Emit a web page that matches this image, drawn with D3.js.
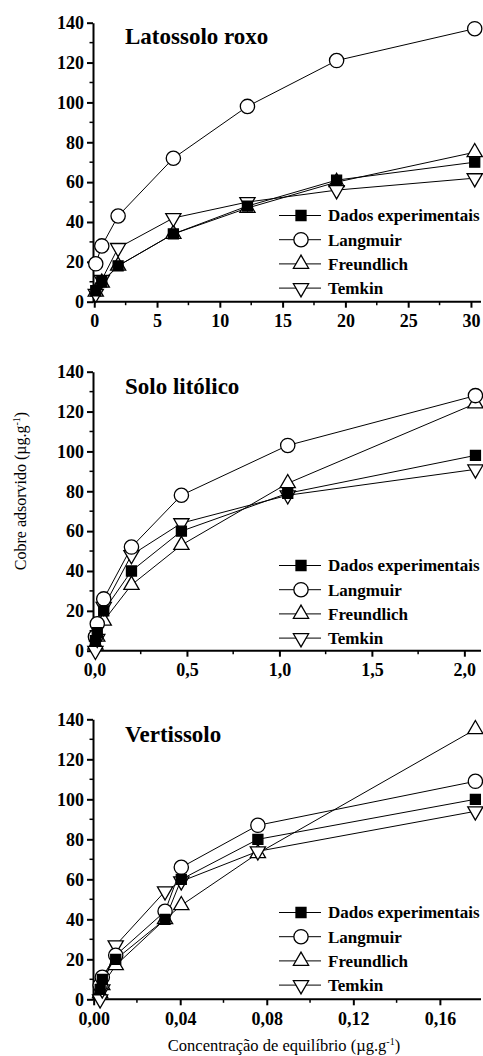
<!DOCTYPE html>
<html><head><meta charset="utf-8">
<script src="https://cdn.jsdelivr.net/npm/d3@7"></script>
<style>
html,body{margin:0;padding:0;background:#fff;}
svg{display:block;}
text{font-family:"Liberation Serif","Times New Roman",Times,serif;fill:#000;}
</style></head>
<body>
<svg id="chart" width="483" height="1056"></svg>
<script>
// ---------- data ----------
const seriesNames = ["Dados experimentais","Langmuir","Freundlich","Temkin"];
const panelTitles = ["Latossolo roxo","Solo litólico","Vertissolo"];

// Latossolo roxo
const x1 = [0.12, 0.6, 1.9, 6.3, 12.2, 19.3, 30.3];
const exp1 = [5.5, 10, 18, 34, 48, 61, 70];
const lang1 = [19, 28, 43, 72, 98, 121, 137];
const freu1 = [5, 9.5, 18, 34, 47, 60, 75];
const temk1 = [4, 11, 27, 42, 50, 56, 62];
const xTicks1 = [0, 5, 10, 15, 20, 25, 30];
const xTickLabels1 = ["0","5","10","15","20","25","30"];

// Solo litólico
const x2 = [0.005, 0.015, 0.05, 0.2, 0.47, 1.045, 2.06];
const exp2 = [5, 9, 20, 40, 60, 79, 98];
const lang2 = [7, 13.5, 26, 52, 78, 103, 128];
const freu2 = [3, 7, 15, 33, 53, 84, 124];
const temk2 = [0, 6, 22, 48, 64, 78, 91];
const xTicks2 = [0, 0.5, 1.0, 1.5, 2.0];
const xTickLabels2 = ["0,0","0,5","1,0","1,5","2,0"];

// Vertissolo
const x3 = [0.003, 0.004, 0.0102, 0.033, 0.0405, 0.0759, 0.1764];
const exp3 = [5, 10, 20, 40, 60, 80, 100];
const lang3 = [7, 11, 22, 44, 66, 87, 109];
const freu3 = [3, 7, 17, 40, 47, 73, 135];
const temk3 = [0, 5, 27, 54, 59, 74, 94];
const xTicks3 = [0, 0.04, 0.08, 0.12, 0.16];
const xTickLabels3 = ["0,00","0,04","0,08","0,12","0,16"];

const yTicks = [0, 20, 40, 60, 80, 100, 120, 140];
const yLabel = "Cobre adsorvido (µg.g";
const xLabel = "Concentração de equilíbrio (µg.g";

// ---------- layout ----------
const panels = [
  {title: panelTitles[0], x: x1, ys: [exp1, lang1, freu1, temk1], xd: [-0.1, 30.8], xt: xTicks1, xl: xTickLabels1, xminor: 2.5, yr: [301.7, 22.7], titleY: 44, legY: 215.5},
  {title: panelTitles[1], x: x2, ys: [exp2, lang2, freu2, temk2], xd: [-0.008, 2.09], xt: xTicks2, xl: xTickLabels2, xminor: 0.25, yr: [650.7, 371.7], titleY: 394, legY: 565.5},
  {title: panelTitles[2], x: x3, ys: [exp3, lang3, freu3, temk3], xd: [-0.0003, 0.179], xt: xTicks3, xl: xTickLabels3, xminor: 0.02, yr: [999.3, 719.3], titleY: 741.5, legY: 912.5}
];
const xr = [93, 481];

const symbols = [
  {type: d3.symbolSquare, size: 100, fill: "#000", rot: 0},
  {type: d3.symbolCircle, size: 160, fill: "#fff", rot: 0},
  {type: d3.symbolTriangle, size: 100, fill: "#fff", rot: 0},
  {type: d3.symbolTriangle, size: 100, fill: "#fff", rot: 180}
];
const drawOrder = [2, 3, 1, 0];

const svg = d3.select("#chart");

panels.forEach(p => {
  const xs = d3.scaleLinear().domain(p.xd).range(xr);
  const ys = d3.scaleLinear().domain([0, 140]).range(p.yr);
  const g = svg.append("g");

  const xMinor = d3.range(p.xminor, p.xd[1], p.xminor * 2);
  const yMinor = d3.range(10, 140, 20);

  // x axis
  const xAxis = d3.axisBottom(xs).tickValues(p.xt).tickFormat((d, i) => p.xl[i]).tickSize(6).tickSizeOuter(0).tickPadding(7);
  const gx = g.append("g").attr("transform", `translate(0,${p.yr[0]})`).call(xAxis);
  gx.attr("font-family", null);
  gx.select(".domain").attr("stroke-width", 2).attr("d", `M${xr[0]},0H${xr[1]}`);
  gx.selectAll(".tick line").attr("stroke-width", 2);
  gx.selectAll(".tick text").attr("font-size", 18).attr("font-weight", "bold");
  gx.selectAll(".minor").data(xMinor).enter().append("line")
    .attr("x1", d => xs(d)).attr("x2", d => xs(d)).attr("y1", 0).attr("y2", 3.5)
    .attr("stroke", "#000").attr("stroke-width", 1.5);

  // y axis
  const yAxis = d3.axisLeft(ys).tickValues(yTicks).tickSize(6).tickSizeOuter(0).tickPadding(3);
  const gy = g.append("g").attr("transform", `translate(${xr[0]},0)`).call(yAxis);
  gy.attr("font-family", null);
  gy.select(".domain").attr("stroke-width", 2);
  gy.selectAll(".tick line").attr("stroke-width", 2);
  gy.selectAll(".tick text").attr("font-size", 18).attr("font-weight", "bold");
  gy.selectAll(".minor").data(yMinor).enter().append("line")
    .attr("x1", 0).attr("x2", -3.5).attr("y1", d => ys(d)).attr("y2", d => ys(d))
    .attr("stroke", "#000").attr("stroke-width", 1.5);

  // title
  g.append("text").attr("x", 125).attr("y", p.titleY).attr("font-size", 23).attr("font-weight", "bold").text(p.title);

  // lines
  const line = d3.line().x(d => xs(d[0])).y(d => ys(d[1]));
  p.ys.forEach(vals => {
    g.append("path").datum(p.x.map((xv, i) => [xv, vals[i]]))
      .attr("d", line).attr("fill", "none").attr("stroke", "#000").attr("stroke-width", 1);
  });
  // markers
  drawOrder.forEach(si => {
    const s = symbols[si];
    const sym = d3.symbol().type(s.type).size(s.size);
    g.selectAll(null).data(p.x.map((xv, i) => [xv, p.ys[si][i]])).enter().append("path")
      .attr("d", sym)
      .attr("transform", d => `translate(${xs(d[0])},${ys(d[1])}) rotate(${s.rot})`)
      .attr("fill", s.fill).attr("stroke", "#000").attr("stroke-width", 1.3);
  });

  // legend
  const lg = g.append("g");
  seriesNames.forEach((name, i) => {
    const yy = p.legY + i * 24.2;
    lg.append("line").attr("x1", 279).attr("x2", 321).attr("y1", yy).attr("y2", yy).attr("stroke", "#000").attr("stroke-width", 1);
    const s = symbols[i];
    lg.append("path").attr("d", d3.symbol().type(s.type).size(s.size))
      .attr("transform", `translate(301,${yy}) rotate(${s.rot})`)
      .attr("fill", s.fill).attr("stroke", "#000").attr("stroke-width", 1.3);
    lg.append("text").attr("x", 328).attr("y", yy).attr("dy", "0.35em").attr("font-size", 17).attr("font-weight", "bold").text(name);
  });
});

// axis titles
const yt = svg.append("text").attr("transform", "translate(26,491) rotate(-90)").attr("text-anchor", "middle").attr("font-size", 16);
yt.append("tspan").text(yLabel);
yt.append("tspan").attr("dy", -6).attr("font-size", 10).text("-1");
yt.append("tspan").attr("dy", 6).text(")");

const xt = svg.append("text").attr("x", 284).attr("y", 1051).attr("text-anchor", "middle").attr("font-size", 16.5);
xt.append("tspan").text(xLabel);
xt.append("tspan").attr("dy", -6).attr("font-size", 10).text("-1");
xt.append("tspan").attr("dy", 6).text(")");
</script>
</body></html>
